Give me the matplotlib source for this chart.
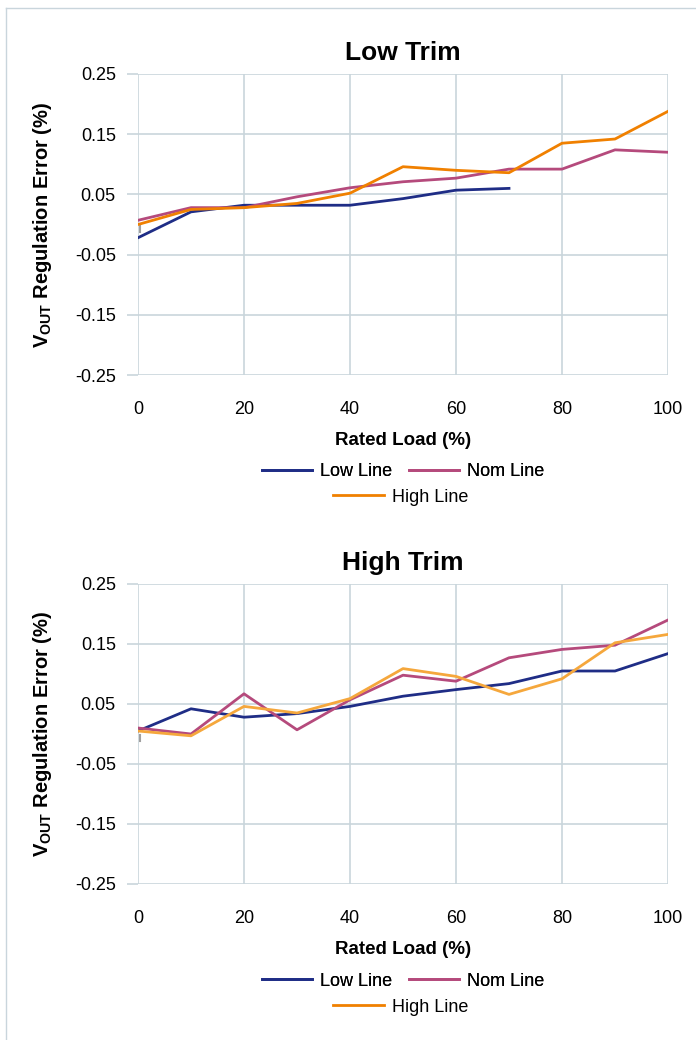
import matplotlib.pyplot as plt
from matplotlib.lines import Line2D

plt.rcParams['font.family'] = ['Liberation Sans', 'DejaVu Sans']

LOAD = [0, 10, 20, 30, 40, 50, 60, 70, 80, 90, 100]

# Low Trim
low_trim_low = [-0.022, 0.021, 0.032, 0.032, 0.032, 0.043, 0.057, 0.060]
low_trim_nom = [0.007, 0.028, 0.028, 0.046, 0.061, 0.071, 0.077, 0.092, 0.092, 0.124, 0.120]
low_trim_high = [0.000, 0.025, 0.028, 0.035, 0.052, 0.096, 0.090, 0.086, 0.135, 0.142, 0.188]

# High Trim
high_trim_low = [0.005, 0.042, 0.028, 0.034, 0.046, 0.063, 0.074, 0.084, 0.105, 0.105, 0.134]
high_trim_nom = [0.010, 0.000, 0.067, 0.007, 0.057, 0.098, 0.088, 0.127, 0.141, 0.148, 0.190]
high_trim_high = [0.005, -0.003, 0.046, 0.035, 0.059, 0.109, 0.096, 0.066, 0.092, 0.152, 0.166]

Y_TICKS = [-0.25, -0.15, -0.05, 0.05, 0.15, 0.25]
X_TICKS = [0, 20, 40, 60, 80, 100]

C_LOW = "#1f2d86"
C_NOM = "#b54a7c"
C_HIGH = "#f08000"
C_HIGH_LIGHT = "#f5a73c"
GRID = "#c9d5dc"

fig = plt.figure(figsize=(6.96, 10.4), dpi=100)

# light frame around the chart area
fig.add_artist(Line2D([6 / 696, 6 / 696], [0, 1 - 8 / 1040], transform=fig.transFigure, color=GRID, lw=1))
fig.add_artist(Line2D([6 / 696, 1], [1 - 8 / 1040, 1 - 8 / 1040], transform=fig.transFigure, color=GRID, lw=1))


def setup_axes(ax, title):
    ax.set_xlim(0, 100)
    ax.set_ylim(-0.25, 0.25)
    ax.set_xticks(X_TICKS)
    ax.set_yticks(Y_TICKS)
    ax.set_yticklabels([f"{v:.2f}" for v in Y_TICKS])
    ax.grid(True, color=GRID, lw=1.2)
    ax.set_axisbelow(True)
    for s in ax.spines.values():
        s.set_visible(False)
    ax.tick_params(axis='y', length=8, color=GRID, width=1.2, labelsize=13, pad=8)
    ax.tick_params(axis='x', length=0, labelsize=13, pad=19)
    ax.set_title(title, fontsize=19, fontweight='bold', pad=10)
    ax.set_xlabel("Rated Load (%)", fontsize=13.5, fontweight='bold', labelpad=10)
    ax.set_ylabel(r"V$_{\mathregular{OUT}}$ Regulation Error (%)", fontsize=14.5, fontweight='bold', labelpad=15)
    # small gray marker at origin
    ax.plot([0.3, 0.3], [-0.002, -0.012], color="#a0a0a0", lw=1.5, zorder=1)


def add_legend(handles, y1, y2):
    l1 = fig.legend(handles[:2], ["Low Line", "Nom Line"], loc='center', bbox_to_anchor=(403 / 696, 1 - y1 / 1040),
                    ncol=2, frameon=False, fontsize=13, handlelength=2.8, columnspacing=0.9, handletextpad=0.45)
    fig.legend(handles[2:], ["High Line"], loc='center', bbox_to_anchor=(401 / 696, 1 - y2 / 1040),
               frameon=False, fontsize=13, handlelength=2.8, handletextpad=0.45)
    fig.add_artist(l1)


ax1 = fig.add_axes([138 / 696, 1 - 375 / 1040, 530 / 696, 301 / 1040])
h1, = ax1.plot(LOAD[:len(low_trim_low)], low_trim_low, color=C_LOW, lw=2)
h2, = ax1.plot(LOAD, low_trim_nom, color=C_NOM, lw=2)
h3, = ax1.plot(LOAD, low_trim_high, color=C_HIGH, lw=2)
setup_axes(ax1, "Low Trim")
add_legend([h1, h2, h3], 472, 497)

ax2 = fig.add_axes([138 / 696, 1 - 884 / 1040, 530 / 696, 300 / 1040])
g1, = ax2.plot(LOAD, high_trim_low, color=C_LOW, lw=2)
g2, = ax2.plot(LOAD, high_trim_nom, color=C_NOM, lw=2)
g3, = ax2.plot(LOAD, high_trim_high, color=C_HIGH_LIGHT, lw=2)
setup_axes(ax2, "High Trim")
legend_high = Line2D([], [], color=C_HIGH, lw=2)
add_legend([g1, g2, legend_high], 981, 1007)

fig.savefig("out.png", dpi=100)
